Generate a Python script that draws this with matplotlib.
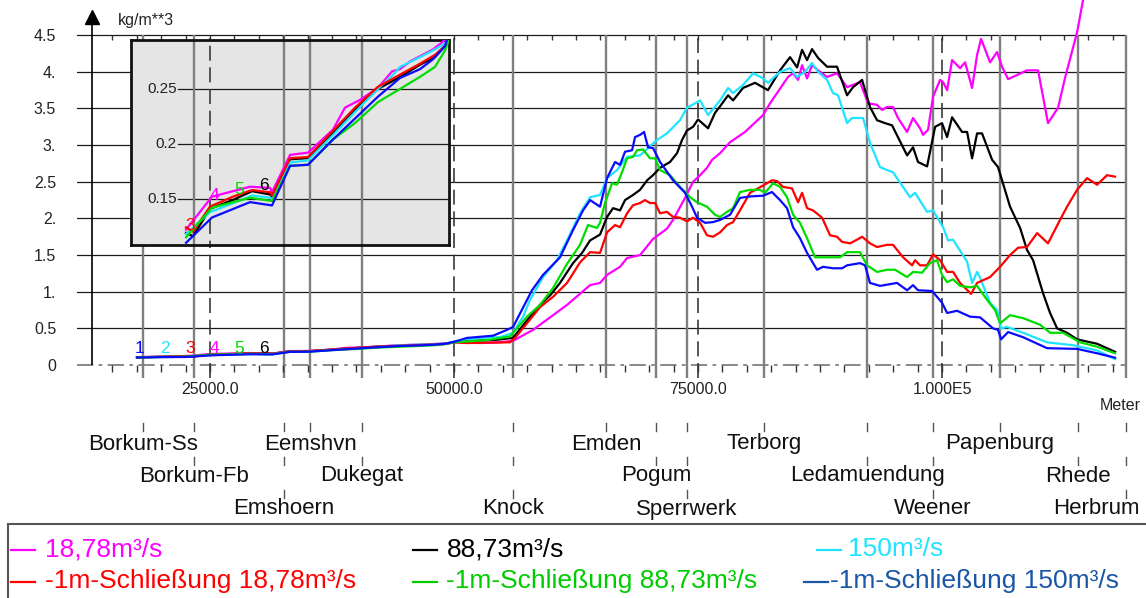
import matplotlib
matplotlib.use("Agg")
import matplotlib.pyplot as plt
import matplotlib.transforms as mtransforms
from matplotlib.patches import Rectangle
from matplotlib.lines import Line2D

plt.rcParams['font.family'] = ['Liberation Sans', 'DejaVu Sans']

W, H = 1146, 598

# ---- data (x in Meter, y in kg/m**3) ----
MAG_X = [17520, 20300, 22540, 25200, 27360, 29100, 31150, 31350, 33200, 35040, 37600, 38830, 40370, 42210, 43650, 44470, 45490, 47850, 48870, 50100, 52660, 54710, 56050, 58090, 59840, 61580, 63940, 64960, 65680, 67010, 67730, 69060, 70390, 71820, 72440, 73670, 74490, 75210, 75920, 76440, 77260, 78280, 79820, 81660, 82380, 83400, 84220, 84740, 85250, 85660, 86170, 86680, 87300, 88220, 89240, 90270, 91600, 92420, 93340, 93850, 94370, 94980, 95490, 96420, 97030, 97750, 98060, 98570, 99080, 99800, 100110, 100520, 101030, 101850, 102360, 103080, 103590, 104000, 104920, 105640, 106150, 106770, 108710, 109840, 110350, 110860, 111890, 112610, 113840, 114450, 115100]
MAG_Y = [0.108, 0.115, 0.122, 0.152, 0.157, 0.161, 0.160, 0.156, 0.190, 0.192, 0.213, 0.233, 0.240, 0.251, 0.266, 0.268, 0.275, 0.286, 0.293, 0.310, 0.300, 0.310, 0.330, 0.48, 0.65, 0.82, 1.09, 1.12, 1.23, 1.34, 1.46, 1.50, 1.72, 1.86, 1.98, 2.28, 2.50, 2.59, 2.69, 2.80, 2.89, 3.04, 3.18, 3.41, 3.57, 3.77, 3.93, 3.98, 3.89, 4.09, 3.91, 4.09, 4.02, 3.93, 3.98, 3.79, 3.86, 3.57, 3.55, 3.48, 3.52, 3.52, 3.37, 3.18, 3.37, 3.23, 3.14, 3.21, 3.66, 3.89, 3.86, 3.75, 4.16, 4.05, 4.13, 3.78, 4.23, 4.45, 4.13, 4.27, 4.07, 3.90, 4.02, 4.02, 3.66, 3.30, 3.51, 3.92, 4.54, 4.98, 5.6]

BLK_X = [17520, 20300, 22540, 23260, 25000, 27360, 29300, 31150, 31350, 33200, 35040, 37600, 39860, 42210, 43650, 44470, 46520, 48050, 49180, 50100, 54410, 56050, 57480, 58810, 59840, 60860, 62190, 63120, 63940, 64960, 65680, 66290, 67010, 67520, 68340, 69060, 69780, 70390, 71110, 72130, 72850, 73360, 73870, 74490, 75000, 76030, 76740, 77260, 78080, 78590, 79610, 80840, 82170, 83400, 84430, 85150, 85660, 86170, 86680, 87300, 88220, 89240, 90270, 90880, 91810, 92620, 93340, 94160, 94880, 96420, 97030, 97540, 98470, 99290, 100000, 100520, 101030, 102050, 102570, 103080, 103590, 104100, 105130, 105740, 106970, 108000, 108710, 109330, 110350, 111070, 111790, 112810, 113840, 115890, 117730]
BLK_Y = [0.105, 0.112, 0.119, 0.116, 0.141, 0.149, 0.157, 0.154, 0.152, 0.186, 0.187, 0.210, 0.231, 0.250, 0.257, 0.261, 0.272, 0.279, 0.290, 0.318, 0.345, 0.37, 0.61, 0.82, 0.95, 1.12, 1.39, 1.53, 1.70, 1.78, 2.02, 2.14, 2.11, 2.25, 2.32, 2.39, 2.52, 2.59, 2.69, 2.77, 2.89, 3.07, 3.20, 3.25, 3.35, 3.23, 3.44, 3.53, 3.68, 3.61, 3.78, 3.85, 3.75, 4.02, 4.20, 4.06, 4.30, 4.16, 4.31, 4.19, 4.07, 4.07, 3.68, 3.79, 3.89, 3.52, 3.34, 3.30, 3.27, 2.86, 2.97, 2.77, 2.71, 3.25, 3.30, 3.11, 3.38, 3.18, 3.18, 2.82, 3.16, 3.16, 2.80, 2.70, 2.16, 1.87, 1.57, 1.43, 0.98, 0.71, 0.50, 0.44, 0.35, 0.29, 0.18]

CYN_X = [17520, 20300, 22540, 25000, 27360, 29300, 31150, 31350, 33200, 35040, 37600, 39860, 42210, 43650, 44470, 46520, 48050, 49180, 50100, 51330, 52660, 54710, 56050, 57070, 57790, 59120, 60550, 61580, 62910, 63940, 64960, 65680, 66700, 67730, 69060, 69880, 70800, 71820, 73160, 73870, 74690, 75210, 76030, 77260, 78080, 78590, 79610, 80640, 81560, 82170, 83400, 84430, 85150, 85960, 86680, 87300, 88220, 88830, 89350, 90270, 90780, 91910, 92620, 93650, 94370, 94980, 96720, 97240, 98470, 99080, 100110, 100620, 101130, 102570, 103080, 103590, 103900, 104920, 105640, 106050, 106660, 108300, 110760, 113430, 115890, 117730]
CYN_Y = [0.106, 0.113, 0.118, 0.138, 0.146, 0.153, 0.151, 0.149, 0.183, 0.185, 0.208, 0.229, 0.250, 0.262, 0.270, 0.279, 0.286, 0.292, 0.325, 0.35, 0.37, 0.38, 0.44, 0.66, 0.89, 1.20, 1.43, 1.70, 2.07, 2.29, 2.32, 2.55, 2.66, 2.84, 2.86, 2.96, 3.07, 3.16, 3.34, 3.51, 3.57, 3.61, 3.41, 3.61, 3.78, 3.71, 3.82, 3.98, 3.92, 3.85, 4.00, 4.05, 3.93, 4.00, 4.12, 4.00, 3.89, 3.71, 3.68, 3.30, 3.37, 3.37, 3.03, 2.70, 2.66, 2.63, 2.29, 2.35, 2.09, 2.11, 1.88, 1.70, 1.71, 1.41, 1.12, 1.27, 1.19, 0.85, 0.75, 0.50, 0.52, 0.44, 0.31, 0.27, 0.20, 0.08]

RED_X = [17520, 20300, 22540, 23260, 25000, 27360, 29300, 31150, 31350, 33200, 35040, 37600, 39860, 42210, 43650, 44470, 46520, 48050, 49180, 50100, 51330, 55740, 56250, 57480, 58810, 60140, 61580, 62910, 63940, 64960, 65680, 66500, 67010, 67730, 68340, 69060, 69570, 70080, 70600, 71110, 71820, 72440, 73160, 73870, 74490, 75210, 75920, 76540, 77260, 77970, 78590, 79300, 80330, 81150, 82580, 83100, 83710, 84630, 85250, 85660, 86170, 86780, 87710, 88530, 89240, 89760, 90580, 91290, 91810, 92620, 93340, 94370, 94980, 96010, 96930, 97240, 97750, 98470, 99080, 99800, 100520, 101130, 101850, 102980, 103590, 104920, 105950, 106970, 107790, 108710, 109740, 110860, 112090, 112810, 113840, 114860, 115890, 116910, 117730]
RED_Y = [0.106, 0.113, 0.124, 0.120, 0.143, 0.152, 0.158, 0.156, 0.153, 0.187, 0.188, 0.212, 0.233, 0.252, 0.259, 0.263, 0.273, 0.281, 0.290, 0.310, 0.300, 0.310, 0.37, 0.57, 0.79, 0.93, 1.12, 1.40, 1.54, 1.53, 1.81, 1.91, 1.88, 2.07, 2.18, 2.21, 2.25, 2.21, 2.21, 2.07, 2.09, 2.02, 2.01, 1.96, 2.01, 1.94, 1.77, 1.75, 1.81, 1.91, 1.95, 2.11, 2.35, 2.41, 2.52, 2.51, 2.43, 2.41, 2.22, 2.35, 2.14, 2.11, 2.01, 1.77, 1.75, 1.68, 1.66, 1.71, 1.75, 1.66, 1.61, 1.64, 1.64, 1.47, 1.36, 1.43, 1.36, 1.36, 1.51, 1.43, 1.27, 1.27, 1.12, 0.97, 1.12, 1.20, 1.34, 1.50, 1.60, 1.61, 1.80, 1.66, 1.98, 2.16, 2.39, 2.55, 2.46, 2.59, 2.57]

GRN_X = [17520, 20300, 22540, 25200, 29100, 31350, 33200, 35040, 37600, 39860, 42210, 44470, 46520, 48050, 49080, 50100, 53380, 55740, 57480, 58810, 60140, 61580, 62910, 63730, 64650, 64960, 65470, 66190, 66700, 67210, 67730, 68340, 68750, 69370, 70080, 70600, 71110, 72130, 73160, 74180, 74900, 75920, 76740, 77260, 77970, 78590, 79300, 80330, 81350, 81870, 82690, 83400, 84120, 84740, 85450, 86170, 86990, 88220, 89550, 90270, 91600, 92320, 93340, 94370, 95190, 96420, 97030, 97950, 98770, 99490, 100000, 100520, 101130, 101850, 102870, 103590, 104610, 105430, 105950, 106970, 108300, 110040, 111070, 112400, 114140, 115890, 117730]
GRN_Y = [0.104, 0.110, 0.115, 0.142, 0.151, 0.148, 0.180, 0.181, 0.204, 0.219, 0.238, 0.250, 0.261, 0.270, 0.285, 0.310, 0.34, 0.39, 0.66, 0.82, 1.05, 1.38, 1.64, 1.91, 1.87, 1.94, 2.21, 2.48, 2.46, 2.63, 2.82, 2.84, 2.93, 2.94, 2.82, 2.82, 2.66, 2.59, 2.43, 2.29, 2.22, 2.16, 2.05, 2.02, 2.09, 2.14, 2.36, 2.39, 2.39, 2.35, 2.48, 2.43, 2.29, 2.05, 1.94, 1.73, 1.47, 1.47, 1.47, 1.54, 1.54, 1.36, 1.27, 1.30, 1.30, 1.20, 1.27, 1.26, 1.39, 1.43, 1.23, 1.13, 1.17, 1.08, 1.06, 1.08, 0.89, 0.75, 0.57, 0.68, 0.64, 0.55, 0.44, 0.44, 0.31, 0.25, 0.16]

BLU_X = [17520, 20300, 22540, 25200, 29100, 31350, 33200, 35040, 37600, 42210, 44470, 46520, 47850, 49080, 50100, 51330, 54000, 55430, 56050, 57990, 59120, 60860, 62190, 63220, 63940, 64960, 65680, 66500, 67010, 67520, 68240, 68550, 69060, 69470, 69880, 70390, 71110, 72440, 73670, 74390, 74900, 75720, 76540, 77260, 78280, 79300, 80330, 81660, 82580, 83400, 84120, 84740, 85450, 86170, 87190, 87810, 88830, 89760, 90270, 91600, 92110, 92620, 93650, 95390, 96420, 97030, 97540, 98980, 100000, 100520, 101540, 102870, 103900, 105230, 105740, 106050, 106770, 108300, 110760, 113840, 115890, 117730]
BLU_Y = [0.103, 0.108, 0.110, 0.133, 0.147, 0.144, 0.180, 0.181, 0.204, 0.243, 0.260, 0.268, 0.277, 0.289, 0.320, 0.37, 0.40, 0.48, 0.52, 1.02, 1.23, 1.47, 1.84, 2.11, 2.25, 2.16, 2.55, 2.77, 2.73, 2.91, 2.93, 3.11, 3.14, 3.18, 2.97, 2.96, 2.77, 2.52, 2.35, 2.16, 2.01, 1.94, 1.95, 1.98, 2.05, 2.28, 2.30, 2.31, 2.36, 2.25, 2.14, 1.88, 1.73, 1.53, 1.30, 1.34, 1.32, 1.32, 1.36, 1.39, 1.36, 1.12, 1.08, 1.12, 1.02, 1.09, 1.02, 1.01, 0.85, 0.71, 0.74, 0.66, 0.65, 0.50, 0.48, 0.35, 0.45, 0.38, 0.23, 0.22, 0.16, 0.10]

SERIES = [
    ("18,78m³/s", MAG_X, MAG_Y, "#ff00ff"),
    ("88,73m³/s", BLK_X, BLK_Y, "#000000"),
    ("150m³/s", CYN_X, CYN_Y, "#1ee4ff"),
    ("-1m-Schließung 18,78m³/s", RED_X, RED_Y, "#ff0000"),
    ("-1m-Schließung 88,73m³/s", GRN_X, GRN_Y, "#00dd00"),
    ("-1m-Schließung 150m³/s", BLU_X, BLU_Y, "#0a0aff"),
]
LEGEND_COLORS = ["#ff00ff", "#000000", "#1ee4ff", "#ff0000", "#00cc00", "#1a56a6"]

STATIONS = ["Borkum-Ss", "Borkum-Fb", "Emshoern", "Eemshvn", "Dukegat", "Knock",
            "Emden", "Pogum", "Sperrwerk", "Terborg", "Ledamuendung", "Weener",
            "Papenburg", "Rhede", "Herbrum"]
STATION_X = [18135, 23360, 32580, 35250, 40570, 56050, 65570, 70700, 73870,
             81760, 92320, 99080, 105950, 113940, 118850]

Y_TICKS = [0, 0.5, 1, 1.5, 2, 2.5, 3, 3.5, 4, 4.5]
Y_LABELS = ["0", "0.5", "1.", "1.5", "2.", "2.5", "3.", "3.5", "4.", "4.5"]
X_TICKS = [25000, 50000, 75000, 100000]
X_LABELS = ["25000.0", "50000.0", "75000.0", "1.000E5"]
INSET_TICKS = [0.15, 0.2, 0.25]
INSET_LABELS = ["0.15", "0.2", "0.25"]

# curve number labels: main plot and inset
NUM_TXT = ["1", "2", "3", "4", "5", "6"]
NUM_COL = ["#0a0aff", "#1ee4ff", "#ff0000", "#ff00ff", "#00dd00", "#000000"]
NUM_X = [17725, 20390, 22950, 25410, 28000, 30530]
INSET_NUM_Y = [None, None, 0.122, 0.149, 0.154, 0.158]

X_MIN, X_MAX = 11370, 118850
Y_MIN, Y_MAX = -0.177, 4.98


def fbox(left, top, right, bottom):
    return [left / W, 1 - bottom / H, (right - left) / W, (bottom - top) / H]


fig = plt.figure(figsize=(W / 100, H / 100), dpi=100)

# ---- main plot ----
ax = fig.add_axes(fbox(77, 0, 1126, 378))
ax.set_xlim(X_MIN, X_MAX)
ax.set_ylim(Y_MIN, Y_MAX)
for s in ax.spines.values():
    s.set_visible(False)

for v in Y_TICKS[1:]:
    ax.plot([X_MIN, X_MAX], [v, v], color="#1a1a1a", lw=0.9, zorder=1)
ax.plot([X_MIN, X_MAX], [0, 0], color="#808080", lw=1.3, ls=(0, (9, 3, 2, 3)), zorder=1)
ax.vlines(STATION_X, Y_MIN, 4.5, colors="#7f7f7f", lw=1.7, zorder=1, clip_on=False)
ax.vlines(X_TICKS, Y_MIN, 4.5, colors="#3a3a3a", lw=1.2, linestyles=(0, (9, 4)), zorder=1)
minor = list(range(15000, 118000, 2500))
ax.vlines(minor, -0.095, 0, colors="#333333", lw=1, zorder=1)
ax.vlines(minor, 4.43, 4.5, colors="#333333", lw=1, zorder=1)

# y axis with arrow
ax.vlines([12910], 0, 4.68, colors="black", lw=1.2)
ax.plot([12910], [4.75], marker="^", ms=10, color="black", clip_on=False)

ax.set_yticks(Y_TICKS, Y_LABELS)
ax.tick_params(axis="y", length=0, pad=15, labelsize=11.5, labelcolor="#222222")
ax.set_xticks(X_TICKS, X_LABELS)
ax.tick_params(axis="x", length=0, pad=3, labelsize=11.5, labelcolor="#222222")

for label, xs, ys, col in SERIES:
    ax.plot(xs, ys, color=col, lw=1.6, zorder=3)

for t, c, x in zip(NUM_TXT, NUM_COL, NUM_X):
    ax.text(x, 0.164, t, color=c, ha="center", va="baseline", fontsize=12.5, zorder=4)

# ---- inset ----
m_per_px = (X_MAX - X_MIN) / (1126 - 77)
axi = fig.add_axes(fbox(131, 40, 449, 245))
axi.set_xlim(X_MIN + (131 - 77) * m_per_px, X_MIN + (449 - 77) * m_per_px)
axi.set_ylim(0.108, 0.2945)
axi.set_facecolor("#e5e5e5")
for s in axi.spines.values():
    s.set_linewidth(2)
    s.set_color("#111111")
axi.set_xticks([])
axi.set_yticks([])
x_in0 = X_MIN + (178 - 77) * m_per_px
for v, lab in zip(INSET_TICKS, INSET_LABELS):
    axi.plot([x_in0, X_MAX], [v, v], color="#1a1a1a", lw=0.9, zorder=1)
    axi.text(X_MIN + (177 - 77) * m_per_px, v, lab, ha="right", va="center",
             fontsize=11, color="#222222")
inset_st = [x for x in STATION_X if x > x_in0]
axi.vlines(inset_st, 0, 1, colors="#7f7f7f", lw=1.7, zorder=1)
axi.vlines(X_TICKS, 0, 1, colors="#3a3a3a", lw=1.2, linestyles=(0, (9, 4)), zorder=1)

for label, xs, ys, col in SERIES:
    pts = [(x, y) for x, y in zip(xs, ys) if x >= 22500]
    axi.plot([p[0] for p in pts], [p[1] for p in pts], color=col, lw=1.6, zorder=3)

for t, c, x, y in zip(NUM_TXT, NUM_COL, NUM_X, INSET_NUM_Y):
    if y is not None:
        axi.text(x, y, t, color=c, ha="center", va="baseline", fontsize=12.5, zorder=4)

# ---- axis captions ----
fig.text(118 / W, 1 - 20 / H, "kg/m**3", fontsize=11.5, va="center", ha="left", color="#222222")
fig.text(1100 / W, 1 - 405 / H, "Meter", fontsize=11.5, va="center", ha="left", color="#222222")

# ---- station labels ----
bt = mtransforms.blended_transform_factory(ax.transData, fig.transFigure)
ROW_Y = [444, 476, 509]
TICK_Y = [(423, 431), (457, 465), (490, 498)]
renderer = fig.canvas.get_renderer()
for i, (name, x) in enumerate(zip(STATIONS, STATION_X)):
    row = i % 3
    for r in range(row + 1):
        y0, y1 = TICK_Y[r]
        fig.add_artist(Line2D([x, x], [1 - y0 / H, 1 - y1 / H], transform=bt,
                              color="#555555", lw=1))
    t = fig.text(x, 1 - ROW_Y[row] / H, name, transform=bt, ha="center", va="center",
                 fontsize=16, color="#111111")
    bb = t.get_window_extent(renderer)
    if bb.x1 > W - 6:
        t.set_position((x - (bb.x1 - (W - 6)) * m_per_px, 1 - ROW_Y[row] / H))

# ---- legend ----
fig.add_artist(Rectangle((8 / W, -0.01), 1.02 - 8 / W, 0.01 + 1 - 524 / H,
                         transform=fig.transFigure, fill=False, edgecolor="#555555", lw=1.5))
LEG_POS = [(11, 45, 549), (413, 447, 549), (817, 848, 549),
           (11, 45, 581), (413, 446, 581), (804, 830, 581)]
for (label, xs, ys, col), lc, (dx, tx, ty) in zip(SERIES, LEGEND_COLORS, LEG_POS):
    fig.add_artist(Line2D([dx / W, (dx + 24) / W], [1 - (ty + 1) / H, 1 - (ty + 1) / H],
                          transform=fig.transFigure, color=lc, lw=1.6))
    fig.text(tx / W, 1 - ty / H, label, color=lc, fontsize=19, va="center", ha="left")

fig.savefig("out.png", dpi=100)
